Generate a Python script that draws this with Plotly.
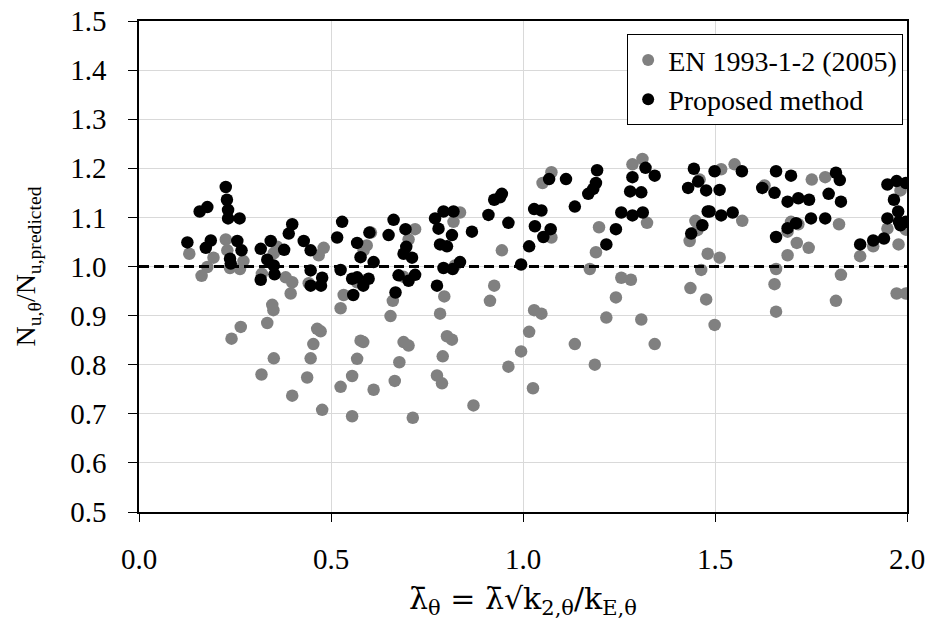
import plotly.graph_objects as go

# EN 1993-1-2 (2005) series (grey)
en_x = [0.131, 0.163, 0.178, 0.194, 0.226, 0.230, 0.237, 0.263, 0.272, 0.241, 0.265, 0.320,
        0.351, 0.360, 0.382, 0.399, 0.395, 0.347, 0.350, 0.334, 0.319, 0.351, 0.399, 0.442,
        0.468, 0.481, 0.464, 0.473, 0.454, 0.447, 0.438, 0.477,
        0.533, 0.525, 0.577, 0.584, 0.568, 0.555, 0.525, 0.555, 0.611, 0.568, 0.585, 0.593,
        0.604, 0.661, 0.655, 0.689, 0.702, 0.678, 0.666, 0.713, 0.719, 0.702, 0.689, 0.819,
        0.836, 0.823, 0.795, 0.784, 0.802, 0.815, 0.791, 0.776, 0.789, 0.871, 0.945, 0.925,
        0.914, 0.962, 0.995,
        1.074, 1.051, 1.074, 1.029, 1.048, 1.016, 1.026, 1.135, 1.187, 1.174, 1.190, 1.198,
        1.217, 1.242, 1.256, 1.281, 1.308, 1.343, 1.285, 1.311, 1.323, 1.434, 1.436, 1.449,
        1.454, 1.464, 1.477, 1.481, 1.460,
        1.512, 1.499, 1.516, 1.551, 1.571, 1.629, 1.659, 1.655, 1.659, 1.689, 1.698, 1.717,
        1.713, 1.689, 1.744, 1.752, 1.787, 1.823, 1.828, 1.815, 1.878, 1.912, 1.949, 1.978,
        1.983, 1.997, 1.973, 1.997]
en_y = [1.026, 0.981, 0.999, 1.018, 1.055, 1.033, 0.997, 0.995, 1.011, 0.853, 0.877, 0.985,
        1.027, 1.040, 0.978, 0.968, 0.945, 0.922, 0.911, 0.885, 0.780, 0.813, 0.737, 0.966,
        1.023, 1.038, 0.873, 0.868, 0.842, 0.813, 0.774, 0.708,
        0.942, 0.915, 0.849, 0.846, 0.812, 0.777, 0.755, 0.695, 0.749, 0.968, 1.033, 1.043,
        1.069, 0.930, 0.899, 0.846, 0.839, 0.805, 0.767, 0.692, 1.076, 1.055, 0.979, 1.091,
        1.110, 1.002, 0.939, 0.904, 0.858, 0.851, 0.817, 0.778, 0.762, 0.717, 1.033, 0.961,
        0.930, 0.796, 0.827,
        1.192, 1.170, 1.059, 0.911, 0.904, 0.867, 0.752, 0.842, 0.800, 0.995, 1.029, 1.080,
        0.896, 0.937, 0.977, 0.973, 0.892, 0.842, 1.208, 1.219, 1.089, 1.052, 0.956, 1.093,
        1.074, 0.993, 0.933, 1.026, 1.177,
        1.018, 0.881, 1.198, 1.208, 1.093, 1.165, 0.995, 0.964, 0.908, 1.071, 1.091, 1.086,
        1.048, 1.023, 1.038, 1.177, 1.182, 1.086, 0.983, 0.930, 1.021, 1.041, 1.077, 1.045,
        1.155, 1.075, 0.945, 0.945]

# Proposed method series (black)
pm_x = [0.126, 0.158, 0.178, 0.174, 0.187, 0.226, 0.229, 0.232, 0.232, 0.262, 0.256, 0.267,
        0.237, 0.239, 0.317, 0.343, 0.378, 0.334, 0.351, 0.353, 0.317, 0.399, 0.390, 0.429,
        0.447, 0.447, 0.447, 0.477, 0.474,
        0.529, 0.516, 0.525, 0.568, 0.577, 0.600, 0.611, 0.555, 0.568, 0.558, 0.584, 0.598,
        0.650, 0.663, 0.694, 0.696, 0.689, 0.711, 0.676, 0.702, 0.719, 0.668, 0.771, 0.793,
        0.819, 0.780, 0.815, 0.784, 0.802, 0.793, 0.817, 0.836, 0.776, 0.867, 0.910, 0.925,
        0.945, 0.940, 0.962, 0.995,
        1.016, 1.029, 1.048, 1.031, 1.053, 1.072, 1.068, 1.112, 1.135, 1.170, 1.183, 1.190,
        1.193, 1.217, 1.242, 1.256, 1.285, 1.312, 1.279, 1.308, 1.285, 1.319, 1.343, 1.430,
        1.445, 1.456, 1.477, 1.481, 1.438, 1.467,
        1.499, 1.512, 1.486, 1.516, 1.546, 1.570, 1.623, 1.655, 1.659, 1.698, 1.689, 1.717,
        1.745, 1.750, 1.787, 1.796, 1.815, 1.825, 1.828, 1.659, 1.689, 1.711, 1.878, 1.912,
        1.940, 1.949, 1.949, 1.973, 1.997, 1.966, 1.977, 1.979, 1.997, 1.983]
pm_y = [1.049, 1.112, 1.121, 1.038, 1.053, 1.162, 1.136, 1.115, 1.098, 1.098, 1.052, 1.033,
        1.016, 1.006, 1.036, 1.052, 1.034, 1.014, 1.002, 0.984, 0.973, 1.086, 1.067, 1.052,
        1.033, 0.992, 0.961, 0.977, 0.961,
        1.091, 1.059, 0.993, 1.048, 1.019, 1.069, 1.009, 0.975, 0.978, 0.942, 0.961, 0.975,
        1.064, 1.095, 1.076, 1.040, 1.026, 1.018, 0.982, 0.971, 0.983, 0.947, 1.098, 1.112,
        1.112, 1.077, 1.064, 1.045, 1.041, 0.997, 0.995, 1.009, 0.961, 1.071, 1.105, 1.136,
        1.148, 1.141, 1.089, 1.004,
        1.041, 1.117, 1.114, 1.082, 1.060, 1.076, 1.178, 1.178, 1.122, 1.148, 1.158, 1.170,
        1.196, 1.045, 1.076, 1.110, 1.104, 1.110, 1.153, 1.151, 1.182, 1.201, 1.185, 1.160,
        1.199, 1.173, 1.155, 1.112, 1.067, 1.084,
        1.194, 1.156, 1.112, 1.104, 1.110, 1.194, 1.160, 1.150, 1.194, 1.185, 1.132, 1.139,
        1.136, 1.098, 1.098, 1.148, 1.191, 1.176, 1.132, 1.060, 1.078, 1.088, 1.045, 1.053,
        1.057, 1.098, 1.167, 1.174, 1.170, 1.136, 1.112, 1.091, 1.091, 1.084]

x_ticks = [0.0, 0.5, 1.0, 1.5, 2.0]
y_ticks = [0.5, 0.6, 0.7, 0.8, 0.9, 1.0, 1.1, 1.2, 1.3, 1.4, 1.5]
ref_line_x = [0.0, 2.0]
ref_line_y = [1.0, 1.0]

font_family = "Liberation Serif"

fig = go.Figure()
fig.add_trace(go.Scatter(x=en_x, y=en_y, mode="markers", name="EN 1993-1-2 (2005)",
                         marker=dict(color="#808080", size=12.5, line=dict(width=0))))
fig.add_trace(go.Scatter(x=pm_x, y=pm_y, mode="markers", name="Proposed method",
                         marker=dict(color="#000000", size=12.5, line=dict(width=0))))
fig.add_trace(go.Scatter(x=ref_line_x, y=ref_line_y, mode="lines", showlegend=False,
                         line=dict(color="black", width=3, dash="10px,5px"), hoverinfo="skip"))

fig.update_layout(
    width=933, height=637,
    margin=dict(l=139, r=26, t=21, b=125),
    paper_bgcolor="white", plot_bgcolor="white",
    font=dict(family=font_family, color="black", size=28),
    showlegend=True,
    legend=dict(x=0.995, y=0.973, xanchor="right", yanchor="top",
                bordercolor="black", borderwidth=1, bgcolor="white",
                font=dict(family=font_family, size=28), itemwidth=30,
                itemsizing="constant", tracegroupgap=0),
    xaxis=dict(range=[0, 2.0], tickvals=x_ticks, ticktext=[f"{v:.1f}" for v in x_ticks],
               showgrid=True, gridcolor="#d9d9d9", gridwidth=1,
               showline=True, linecolor="black", linewidth=1.5, mirror=True,
               ticks="outside", ticklen=8, tickcolor="black", zeroline=False,
               automargin=False, ticklabelstandoff=12,
               tickfont=dict(family=font_family, size=29),
               title=dict(text="λ̄<sub>θ</sub> = λ̄√k<sub>2,θ</sub>/k<sub>E,θ</sub>",
                          font=dict(family="DejaVu Serif", size=30), standoff=14)),
    yaxis=dict(range=[0.5, 1.5], tickvals=y_ticks, ticktext=[f"{v:.1f}" for v in y_ticks],
               showgrid=True, gridcolor="#d9d9d9", gridwidth=1,
               showline=True, linecolor="black", linewidth=1.5, mirror=True,
               ticks="outside", ticklen=9, tickcolor="black", zeroline=False,
               automargin=False, ticklabelstandoff=16,
               tickfont=dict(family=font_family, size=29),
               title=dict(text="N<sub>u,θ</sub>/N<sub>u,predicted</sub>",
                          font=dict(family=font_family, size=28), standoff=26)),
)

# remove the default page margin so the figure sits at the window's top-left corner
fig.write_html("out.html",
               config={"displayModeBar": False},
               post_script="document.body.style.margin='0';document.body.style.padding='0';")
